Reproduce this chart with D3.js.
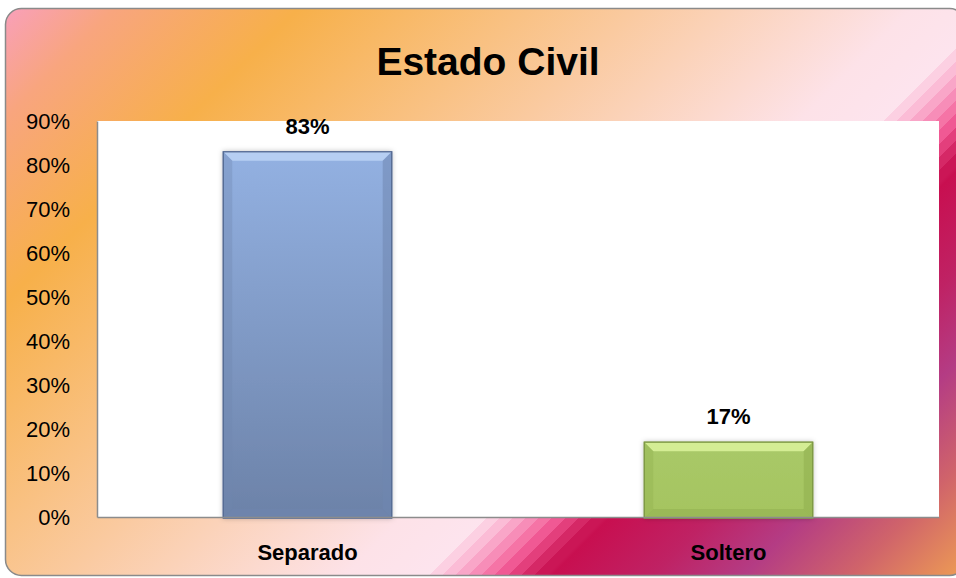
<!DOCTYPE html>
<html>
<head>
<meta charset="utf-8">
<script src="https://cdn.jsdelivr.net/npm/d3@7"></script>
<style>
  body { margin: 0; background: #fff; }
  svg text { font-family: "Liberation Sans", Arial, sans-serif; }
</style>
</head>
<body>
<svg id="viz" width="956" height="578"></svg>
<script>
// data
const categories = ["Separado", "Soltero"]
const values = [0.83, 0.17]
const yTicks = [0, 0.1, 0.2, 0.3, 0.4, 0.5, 0.6, 0.7, 0.8, 0.9]
const title = "Estado Civil"

const MARGIN = {top: 121, bottom: 61, left: 97, right: 17}
var svg = d3.select("svg#viz")
const width = +svg.attr('width')
const height = +svg.attr('height')
const m_width = width - (MARGIN.left + MARGIN.right)
const m_height = height - (MARGIN.top + MARGIN.bottom)

const defs = svg.append("defs")

// card background, diagonal bands
const bg = defs.append("linearGradient").attr("id", "bg")
    .attr("gradientUnits", "userSpaceOnUse")
    .attr("x1", 0).attr("y1", 0).attr("x2", 767).attr("y2", 767)
const bgStops = [
    [0, "#f99fc2"], [0.08, "#f8a57e"], [0.2, "#f7b04a"], [0.42, "#facaa0"],
    [0.6, "#fde2e8"], [0.655, "#fde4ee"]
]
bgStops.forEach(s => bg.append("stop").attr("offset", s[0]).attr("stop-color", s[1]))
// stripes
const bands = ["#fcd0e2", "#fbbcd6", "#f9a6c8", "#f78db8", "#f574a6", "#f05994", "#e33f7c", "#d52866", "#cb1656"]
bands.forEach((c, i) => {
    const a = 0.655 + i * 0.0085
    bg.append("stop").attr("offset", a).attr("stop-color", c)
    bg.append("stop").attr("offset", a + 0.0085).attr("stop-color", c)
})
const bgStops2 = [[0.735, "#c80f50"], [0.8, "#bf2264"], [0.86, "#b43c84"], [0.93, "#d0646a"], [1, "#ec9a55"]]
bgStops2.forEach(s => bg.append("stop").attr("offset", s[0]).attr("stop-color", s[1]))

const blue = defs.append("linearGradient").attr("id", "blue").attr("x1", 0).attr("y1", 0).attr("x2", 0).attr("y2", 1)
blue.append("stop").attr("offset", 0).attr("stop-color", "#93b1e2")
blue.append("stop").attr("offset", 1).attr("stop-color", "#6c82a8")
const green = defs.append("linearGradient").attr("id", "green").attr("x1", 0).attr("y1", 0).attr("x2", 0).attr("y2", 1)
green.append("stop").attr("offset", 0).attr("stop-color", "#a9c968")
green.append("stop").attr("offset", 1).attr("stop-color", "#a5c460")

const shadow = defs.append("filter").attr("id", "shadow").attr("x", "-10%").attr("y", "-10%").attr("width", "120%").attr("height", "120%")
shadow.append("feDropShadow").attr("dx", 0).attr("dy", 0).attr("stdDeviation", 2.5).attr("flood-color", "#000").attr("flood-opacity", 0.25)

svg.append("rect")
    .attr("x", 5.5).attr("y", 8.5).attr("width", 960).attr("height", 567)
    .attr("rx", 16).attr("ry", 16)
    .attr("fill", "url(#bg)")
    .attr("stroke", "#8a8a8a").attr("stroke-width", 1.5)

svg.append("text")
    .attr("x", 488).attr("y", 75)
    .attr("text-anchor", "middle")
    .attr("font-size", 39).attr("font-weight", "bold")
    .attr("fill", "#000")
    .text(title)

const chart = svg.append('g').attr("transform", `translate(${MARGIN.left}, ${MARGIN.top})`)

chart.append("rect").attr("width", m_width).attr("height", m_height).attr("fill", "#fff")

var x_scale = d3.scaleBand().domain(categories).range([0, m_width])
    .paddingInner(0.6).paddingOuter(0.3)
var y_scale = d3.scaleLinear().domain([0, 0.9]).range([m_height, 0])

const fills = ["url(#blue)", "url(#green)"]
const strokes = ["#566c94", "#7f9a45"]
const lights = ["#bcd3f5", "#dcf39c"]
const darks = ["#6f86b0", "#8fae4e"]
const bev = 9

const bars = chart.selectAll("g.bar").data(categories.map((c, i) => ({c: c, v: values[i], i: i})))
    .join("g").attr("class", "bar")

bars.append("rect")
    .attr("x", d => x_scale(d.c))
    .attr("y", d => y_scale(d.v))
    .attr("width", x_scale.bandwidth())
    .attr("height", d => m_height - y_scale(d.v) + 1)
    .attr("fill", d => fills[d.i])
    .attr("stroke", d => strokes[d.i])
    .attr("stroke-width", 1.2)
    .attr("filter", "url(#shadow)")

// bevel edges
bars.each(function(d) {
    const g = d3.select(this)
    const x0 = x_scale(d.c), x1 = x0 + x_scale.bandwidth()
    const y0 = y_scale(d.v), y1 = m_height + 1
    const b = Math.min(bev, (y1 - y0) / 2)
    g.append("path").attr("d", `M${x0},${y0}L${x1},${y0}L${x1 - b},${y0 + b}L${x0 + b},${y0 + b}Z`)
        .attr("fill", lights[d.i]).attr("opacity", 0.85)
    g.append("path").attr("d", `M${x0},${y0}L${x0 + b},${y0 + b}L${x0 + b},${y1 - b}L${x0},${y1}Z`)
        .attr("fill", darks[d.i]).attr("opacity", 0.35)
    g.append("path").attr("d", `M${x1},${y0}L${x1 - b},${y0 + b}L${x1 - b},${y1 - b}L${x1},${y1}Z`)
        .attr("fill", darks[d.i]).attr("opacity", 0.55)
    g.append("path").attr("d", `M${x0},${y1}L${x0 + b},${y1 - b}L${x1 - b},${y1 - b}L${x1},${y1}Z`)
        .attr("fill", darks[d.i]).attr("opacity", 0.5)
    g.append("rect").attr("x", x0).attr("y", y0).attr("width", x1 - x0).attr("height", y1 - y0)
        .attr("fill", "none").attr("stroke", strokes[d.i]).attr("stroke-width", 1.2)
})

bars.append("text")
    .attr("x", d => x_scale(d.c) + x_scale.bandwidth() / 2)
    .attr("y", d => y_scale(d.v) - 18)
    .attr("text-anchor", "middle")
    .attr("font-size", 22).attr("font-weight", "bold")
    .text(d => d3.format(".0%")(d.v))

var x_axis = d3.axisBottom(x_scale).tickSize(0).tickPadding(27)
var y_axis = d3.axisLeft(y_scale).tickValues(yTicks).tickFormat(d3.format(".0%")).tickSize(0).tickPadding(27)

let axes = chart.append("g").attr("class", 'axes')
let xa = axes.append('g').call(x_axis).attr('transform', `translate(0,${m_height})`)
let ya = axes.append('g').call(y_axis)

xa.selectAll("text").attr("font-size", 22).attr("font-weight", "bold").attr("fill", "#000")
    .attr("font-family", '"Liberation Sans", Arial, sans-serif')
ya.selectAll("text").attr("font-size", 22).attr("fill", "#000")
    .attr("font-family", '"Liberation Sans", Arial, sans-serif')
axes.selectAll(".domain").attr("stroke", "#8c8c8c").attr("stroke-width", 1.5)
</script>
</body>
</html>
